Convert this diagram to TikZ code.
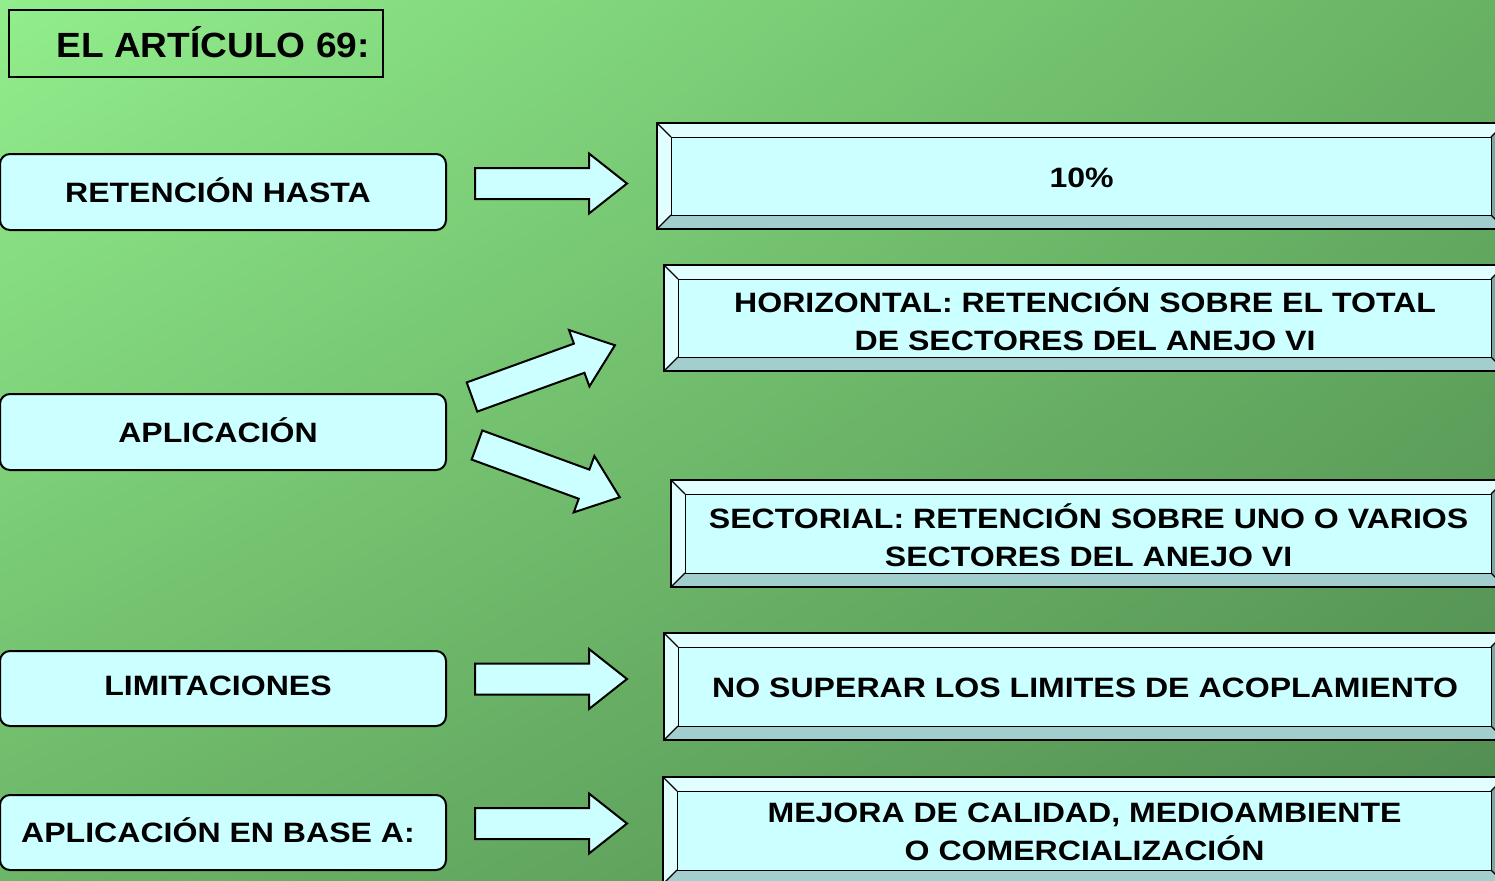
\documentclass[tikz,border=0pt]{standalone}
\usepackage{fontspec}
\usetikzlibrary{shadings}
\setmainfont{Liberation Sans}
\newfontfamily\widefont[FakeStretch=1.145]{Liberation Sans}
\newfontfamily\titlefont[FakeStretch=1.06]{Liberation Sans}
\definecolor{boxfill}{RGB}{204,255,255}
\definecolor{bevlight}{RGB}{226,255,255}
\definecolor{bevdark}{RGB}{163,206,206}
\definecolor{bevdarker}{RGB}{120,165,165}
\definecolor{bgUL}{RGB}{146,238,140}
\definecolor{bgUR}{RGB}{104,178,100}
\definecolor{bgLL}{RGB}{108,182,104}
\definecolor{bgLR}{RGB}{80,138,80}
\tikzset{
  leftbox/.style={draw=black, line width=1pt, fill=boxfill, rounded corners=5pt,
    anchor=north west, inner sep=0pt},
  lefttext/.style={font=\widefont\fontsize{14}{17}\selectfont\bfseries},
  righttext/.style={font=\widefont\fontsize{14}{19}\selectfont\bfseries, align=center},
  arrowsty/.style={draw=black, line width=1pt, fill=boxfill, line join=miter},
  innerbox/.style={draw=black, line width=0.6pt, fill=boxfill, anchor=north west, inner sep=0pt},
  blockarrow/.pic={\draw[arrowsty] (0,-15.5) -- (114,-15.5) -- (114,-30) -- (152,0) -- (114,30) -- (114,15.5) -- (0,15.5) -- cycle;}
}
% name, x0, y0, y1, text
\newcommand\bevelbox[5]{%
  \fill[bevlight] (#2,#3) -- (1505,#3) -- (1491,#3+14) -- (#2+14,#3+14) -- cycle;
  \fill[bevlight] (#2,#3) -- (#2+14,#3+14) -- (#2+14,#4-14) -- (#2,#4) -- cycle;
  \fill[bevdark] (#2,#4) -- (#2+14,#4-14) -- (1491,#4-14) -- (1505,#4) -- cycle;
  \fill[bevdarker] (1491,#3+14) -- (1505,#3) -- (1505,#4) -- (1491,#4-14) -- cycle;
  \draw[line width=0.6pt] (#2,#3) -- (#2+14,#3+14) (#2,#4) -- (#2+14,#4-14)
     (1505,#3) -- (1491,#3+14) (1505,#4) -- (1491,#4-14);
  \node[innerbox, minimum width={(1491-#2-14)*0.5pt}, minimum height={(#4-#3-28)*0.5pt}] (#1) at (#2+14,#3+14) {};
  \draw[line width=1pt] (#2,#3) rectangle (1505,#4);
  \node[righttext] (#1t) at ([yshift=-0.5pt]#1.center) {#5};
}
\begin{document}
\begin{tikzpicture}[x=0.5pt,y=-0.5pt]
\useasboundingbox (0,0) rectangle (1495,880);
\clip (0,0) rectangle (1495,880);
\shade[upper left=bgUL, upper right=bgUR, lower left=bgLL, lower right=bgLR] (0,0) rectangle (1495,880);

% title
\node[draw=black, line width=0.8pt, anchor=north west, minimum width=187pt, minimum height=33.5pt, inner sep=0pt] (title) at (8,9) {};
\node[font=\titlefont\fontsize{17.5}{20}\selectfont\bfseries] (titlet) at (213,42) {EL ARTÍCULO 69:};

% left boxes
\node[leftbox, minimum width=223pt, minimum height=38pt] (l1) at (-1,153) {};
\node[lefttext] (l1t) at (218,190) {RETENCIÓN HASTA};
\node[leftbox, minimum width=223pt, minimum height=38pt] (l2) at (-1,393) {};
\node[lefttext] (l2t) at (218,430) {APLICACIÓN};
\node[leftbox, minimum width=223pt, minimum height=37.5pt] (l3) at (-1,650) {};
\node[lefttext] (l3t) at (218,686) {LIMITACIONES};
\node[leftbox, minimum width=223pt, minimum height=37.5pt] (l4) at (-1,794) {};
\node[lefttext] (l4t) at (218,830) {APLICACIÓN EN BASE A:};

% right bevel boxes
\bevelbox{r1}{657}{123}{229}{10\%}
\bevelbox{r2}{664}{265}{371}{HORIZONTAL: RETENCIÓN SOBRE EL TOTAL\\DE SECTORES DEL ANEJO VI}
\bevelbox{r3}{671}{480}{587}{SECTORIAL: RETENCIÓN SOBRE UNO O VARIOS\\SECTORES DEL ANEJO VI}
\bevelbox{r4}{664}{633}{740}{NO SUPERAR LOS LIMITES DE ACOPLAMIENTO}
\bevelbox{r5}{663}{777}{884}{MEJORA DE CALIDAD, MEDIOAMBIENTE\\O COMERCIALIZACIÓN}

% block arrows
\pic (a1) at (475,183.5) {blockarrow};
\pic (a2) [rotate=19.9] at (472,397) {blockarrow};
\pic (a3) [rotate=-20.1] at (477,445) {blockarrow};
\pic (a4) at (475,679) {blockarrow};
\pic (a5) at (475,823.5) {blockarrow};
\end{tikzpicture}
\end{document}
